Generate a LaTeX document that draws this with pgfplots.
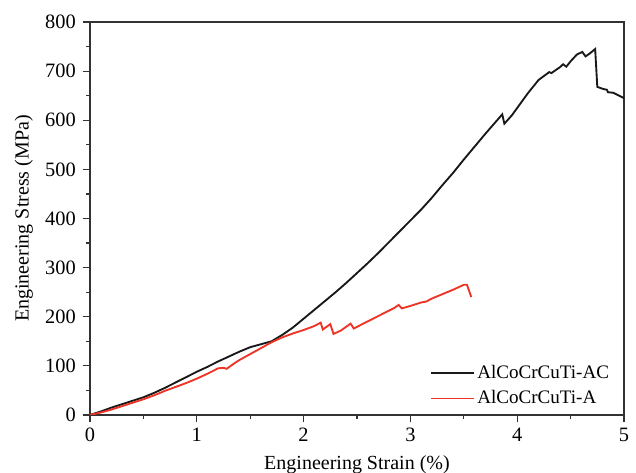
\documentclass[border=0pt]{standalone}
\usepackage{fontspec}
\setmainfont{Liberation Serif}
\usepackage{pgfplots}
\pgfplotsset{compat=1.18}
\definecolor{redline}{RGB}{238,52,38}
\definecolor{blackline}{RGB}{25,25,25}
\begin{document}
\fontsize{15}{17}\selectfont
\begin{tikzpicture}
\useasboundingbox (-67.5pt,-43.5pt) rectangle (409.5pt,311.25pt);
\begin{axis}[
  at={(0pt,0pt)}, anchor=south west,
  width=400.5pt, height=294.75pt, scale only axis,
  xmin=0, xmax=5, ymin=0, ymax=800,
  xtick={0,1,2,3,4,5}, ytick={0,100,...,800},
  minor x tick num=1, minor y tick num=1,
  tick align=outside, tick pos=left,
  major tick length=5.5pt, minor tick length=3pt,
  axis line style={line width=0.9pt, draw=black!80},
  every tick/.style={line width=0.9pt, black!80},
  /pgf/number format/assume math mode=true,
  ticklabel style={font=\fontsize{15.3}{17}\selectfont},
  xticklabel style={yshift=1pt},
  xlabel={Engineering Strain (\%)}, ylabel={Engineering Stress (MPa)},
  label style={font=\fontsize{15}{17}\selectfont},
  xlabel style={yshift=0pt}, ylabel style={yshift=-1pt},
  legend style={draw=none, fill=none, at={(0.985,0.007)}, anchor=south east, font=\fontsize{14.3}{16}\selectfont, row sep=3pt},
  legend cell align=left,
  legend image code/.code={\draw[#1, line width=1.4pt] (0pt,0pt) -- (32pt,0pt);},
]
\addplot[blackline, line width=1.4pt] coordinates {
(0,0) (0.1,7) (0.2,15) (0.3,22) (0.4,29) (0.5,36) (0.6,45) (0.7,55) (0.8,66) (0.9,77)
(1.0,88) (1.1,98) (1.2,109) (1.3,119) (1.4,129) (1.5,138) (1.6,144) (1.7,150) (1.8,163) (1.9,178)
(2.0,196) (2.1,214) (2.2,232) (2.3,250) (2.4,269) (2.5,289) (2.6,309) (2.7,330) (2.8,352) (2.9,374)
(3.0,396) (3.1,418) (3.2,442) (3.3,468) (3.4,493) (3.5,520) (3.6,546) (3.7,572) (3.8,597)
(3.86,612) (3.88,593) (3.95,610) (4.0,625) (4.1,655) (4.2,682) (4.3,698) (4.32,696) (4.4,708)
(4.43,714) (4.46,709) (4.5,720) (4.56,734) (4.61,739) (4.64,730) (4.68,736) (4.73,745)
(4.75,668) (4.8,664) (4.84,662) (4.85,657) (4.9,656) (5.0,645)
};
\addlegendentry{AlCoCrCuTi-AC}
\addplot[redline, line width=1.4pt] coordinates {
(0,0) (0.1,5) (0.2,11) (0.3,18) (0.4,25) (0.5,32) (0.6,40) (0.7,49) (0.8,57) (0.9,65)
(1.0,74) (1.1,84) (1.2,95) (1.25,96) (1.28,94) (1.35,105) (1.4,112) (1.5,124) (1.6,136)
(1.7,148) (1.8,158) (1.9,166) (2.0,173) (2.1,181) (2.16,188) (2.18,174) (2.25,185) (2.28,165)
(2.35,172) (2.44,186) (2.47,176) (2.55,185) (2.65,196) (2.75,207) (2.85,218) (2.89,224)
(2.92,217) (3.0,222) (3.1,229) (3.15,231) (3.2,237) (3.3,246) (3.4,255) (3.5,265) (3.53,265) (3.57,240)
};
\addlegendentry{AlCoCrCuTi-A}
\end{axis}
\end{tikzpicture}
\end{document}
